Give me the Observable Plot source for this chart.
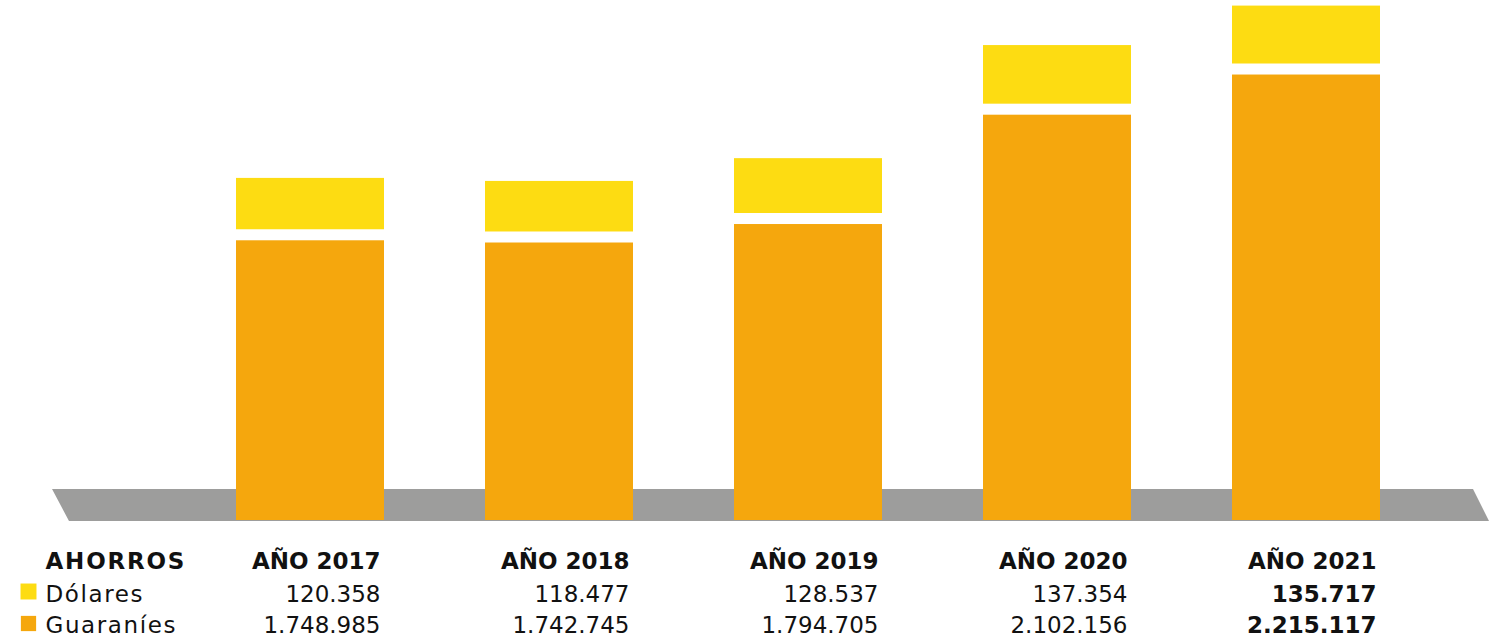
<!DOCTYPE html>
<html>
<head>
<meta charset="utf-8">
<script src="https://cdn.jsdelivr.net/npm/d3@7"></script>
<script src="https://cdn.jsdelivr.net/npm/@observablehq/plot@0.6"></script>
<style>
  html, body { margin: 0; padding: 0; background: #ffffff; }
  #chart svg { display: block; }
  [aria-label="row-title"] { letter-spacing: 1.8px; }
  [aria-label="series-names"] { letter-spacing: 1.6px; }
</style>
</head>
<body>
<div id="chart"></div>
<script>
// ---- data ----
const years = ["2017", "2018", "2019", "2020", "2021"];
const dolares = [120358, 118477, 128537, 137354, 135717];
const guaranies = [1748985, 1742745, 1794705, 2102156, 2215117];
const rowTitle = "AHORROS";
const seriesNames = ["Dólares", "Guaraníes"];
const yearPrefix = "AÑO ";

// ---- styling / scale parameters ----
const YELLOW = "#FDDC12";
const ORANGE = "#F5A70D";
const FLOOR = "#9D9D9C";
const yDomain = [962400, 2424700];   // axis is cut (not zero based) as in the original
const gap = 31000;                    // white gap between the two segments (in y units)
const dollarScale = 1.2;              // the dollar segment is drawn on its own scale
const FONT = "'DejaVu Sans', sans-serif";

const data = years.map((y, i) => ({year: y, dolares: dolares[i], guaranies: guaranies[i]}));
const fmt = d3.formatLocale({decimal: ",", thousands: ".", grouping: [3], currency: ["", ""]}).format(",d");
const lastYear = years[years.length - 1];
const isLast = d => d.year === lastYear;
const notLast = d => d.year !== lastYear;

// decorative grey floor (parallelogram) drawn from the frame dimensions
function floorMark() {
  return (index, scales, values, dim) => {
    const bottom = dim.height - dim.marginBottom;
    const top = bottom - 31;
    const x0 = dim.marginLeft - 183, x1 = dim.width - 26;
    const pts = [[x0, top], [x1, top], [x1 + 16, bottom + 1], [x0 + 17, bottom + 1]];
    return d3.create("svg:polygon")
      .attr("points", pts.map(p => p.join(",")).join(" "))
      .attr("fill", FLOOR)
      .node();
  };
}

const FS = 23;
const textBase = {fontSize: FS, fontFamily: FONT, fill: "#111", frameAnchor: "bottom", lineAnchor: "bottom"};
const HEAD_DY = 48, ROW1_DY = 81, ROW2_DY = 112;
const valueBase = {...textBase, x: "year", textAnchor: "end", dx: 70};
const leftBase = {...textBase, frameAnchor: "bottom-left", text: d => d, textAnchor: "start", dx: -190};

const chart = Plot.plot({
  width: 1499,
  height: 640,
  marginTop: 0,
  marginBottom: 120,
  marginLeft: 235,
  marginRight: 119,
  style: {fontFamily: FONT, background: "#ffffff"},
  x: {type: "band", domain: years, paddingInner: 0.406, paddingOuter: 0, axis: null},
  y: {domain: yDomain, axis: null},
  marks: [
    floorMark(),
    Plot.rectY(data, {x: "year", y1: yDomain[0], y2: "guaranies", fill: ORANGE}),
    Plot.rectY(data, {
      x: "year",
      y1: d => d.guaranies + gap,
      y2: d => d.guaranies + gap + d.dolares * dollarScale,
      fill: YELLOW
    }),
    // header row
    Plot.text([rowTitle], {...leftBase, dy: HEAD_DY, fontWeight: "bold", ariaLabel: () => "row-title"}),
    Plot.text(data, {...valueBase, text: d => yearPrefix + d.year, dy: HEAD_DY, fontWeight: "bold"}),
    // legend squares + labels
    Plot.dot([seriesNames[0]], {frameAnchor: "bottom-left", dx: -207, dy: 71, symbol: "square", r: 9, fill: YELLOW, stroke: null}),
    Plot.dot([seriesNames[1]], {frameAnchor: "bottom-left", dx: -207, dy: 103, symbol: "square", r: 8.6, fill: ORANGE, stroke: null}),
    Plot.text([seriesNames[0]], {...leftBase, dy: ROW1_DY, ariaLabel: () => "series-names"}),
    Plot.text([seriesNames[1]], {...leftBase, dy: ROW2_DY, ariaLabel: () => "series-names"}),
    // values
    Plot.text(data, {...valueBase, filter: notLast, text: d => fmt(d.dolares), dy: ROW1_DY}),
    Plot.text(data, {...valueBase, filter: notLast, text: d => fmt(d.guaranies), dy: ROW2_DY}),
    Plot.text(data, {...valueBase, filter: isLast, text: d => fmt(d.dolares), dy: ROW1_DY, fontWeight: "bold"}),
    Plot.text(data, {...valueBase, filter: isLast, text: d => fmt(d.guaranies), dy: ROW2_DY, fontWeight: "bold"})
  ]
});

document.getElementById("chart").appendChild(chart);
</script>
</body>
</html>
